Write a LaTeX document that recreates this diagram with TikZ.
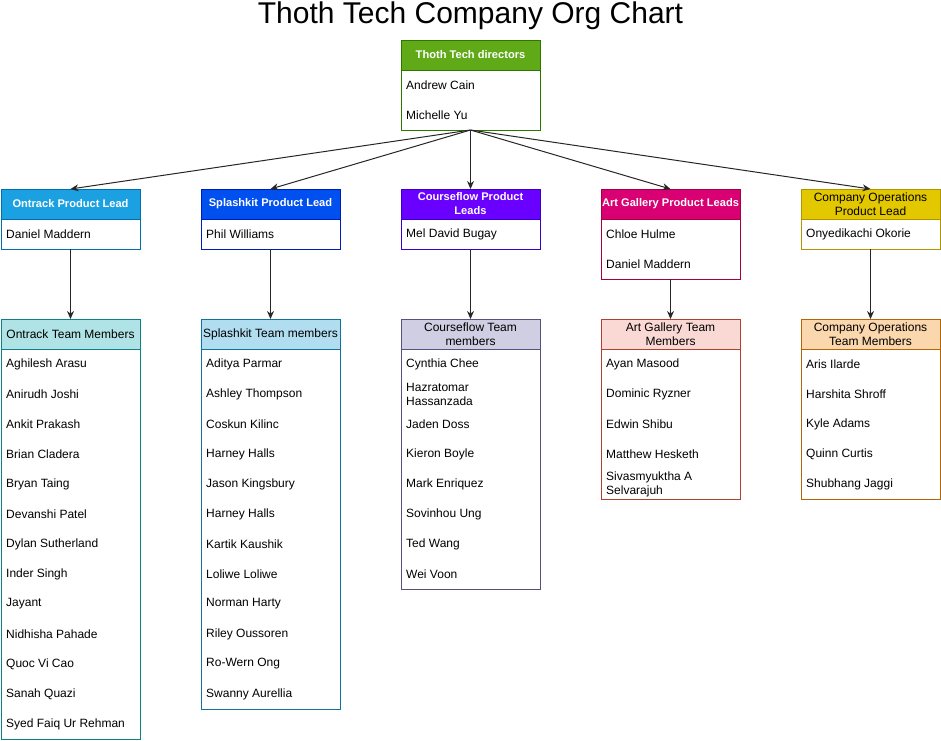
\documentclass[tikz,border=0pt]{standalone}
\usepackage{fontspec}
\setmainfont{Liberation Sans}
\usetikzlibrary{arrows.meta}
\definecolor{dirF}{HTML}{60A917}\definecolor{dirS}{HTML}{2D7600}
\definecolor{otF}{HTML}{1BA1E2}\definecolor{otS}{HTML}{006EAF}
\definecolor{skF}{HTML}{0050EF}\definecolor{skS}{HTML}{001DBC}
\definecolor{cfF}{HTML}{6A00FF}\definecolor{cfS}{HTML}{3700CC}
\definecolor{agF}{HTML}{D80073}\definecolor{agS}{HTML}{A50040}
\definecolor{coF}{HTML}{E3C800}\definecolor{coS}{HTML}{B09500}
\definecolor{otTF}{HTML}{B0E3E6}\definecolor{otTS}{HTML}{0E8088}
\definecolor{skTF}{HTML}{B1DDF0}\definecolor{skTS}{HTML}{10739E}
\definecolor{cfTF}{HTML}{D0CEE2}\definecolor{cfTS}{HTML}{56517E}
\definecolor{agTF}{HTML}{FAD9D5}\definecolor{agTS}{HTML}{AE4132}
\definecolor{coTF}{HTML}{FAD7AC}\definecolor{coTS}{HTML}{B46504}
\begin{document}
\begin{tikzpicture}[x=1pt,y=-1pt,
  box/.style={draw=#1, fill=white, minimum width=139pt, inner sep=0pt, outer sep=0pt, line width=1pt},
  hdr/.style={draw=#1, minimum width=139pt, minimum height=30pt, inner sep=0pt, outer sep=0pt, line width=1pt, align=center, font=\fontsize{12}{14}\selectfont},
  hdrw/.style={hdr=#1, text=white, font=\fontsize{11.1}{14}\selectfont\bfseries},
  row/.style={anchor=west, inner sep=0pt, align=left, font=\fontsize{12}{14}\selectfont},
  arr/.style={draw=black!85, line width=1pt, -{Stealth[length=8pt,width=7pt]}}]
\useasboundingbox (0,0) rectangle (941,740);
\node[font=\fontsize{30}{36}\selectfont, anchor=base, inner sep=0pt] (title) at (470.5,23.5) {Thoth Tech Company Org Chart};

% directors
\node[box=dirS, minimum height=90pt] (dirB) at (470.5,85) {};
\node[hdrw=dirS, fill=dirF] (dirH) at (470.5,55) {Thoth Tech directors};
\node[row] (dirR1) at (406,85) {Andrew Cain};
\node[row] (dirR2) at (406,115) {Michelle Yu};

% leads
\node[box=otS, minimum height=60pt] (otB) at (70.5,219) {};
\node[hdrw=otS, fill=otF] (otH) at (70.5,204) {Ontrack Product Lead};
\node[row] (otR1) at (6,234) {Daniel Maddern};

\node[box=skS, minimum height=60pt] (skB) at (270.5,219) {};
\node[hdrw=skS, fill=skF] (skH) at (270.5,204) {Splashkit Product Lead};
\node[row] (skR1) at (206,234) {Phil Williams};

\node[box=cfS, minimum height=60pt] (cfB) at (470.5,219) {};
\node[hdrw=cfS, fill=cfF] (cfH) at (470.5,204) {Courseflow Product\\Leads};
\node[row] (cfR1) at (406,234) {Mel David Bugay};

\node[box=agS, minimum height=90pt] (agB) at (670.5,234) {};
\node[hdrw=agS, fill=agF] (agH) at (670.5,204) {Art Gallery Product Leads};
\node[row] (agR1) at (606,234) {Chloe Hulme};
\node[row] (agR2) at (606,264) {Daniel Maddern};

\node[box=coS, minimum height=60pt] (coB) at (870.5,219) {};
\node[hdr=coS, fill=coF] (coH) at (870.5,204) {Company Operations\\Product Lead};
\node[row] (coR1) at (806,234) {Onyedikachi Okorie};

% teams
\node[box=otTS, minimum height=420pt] (otTB) at (70.5,529) {};
\node[hdr=otTS, fill=otTF] (otTH) at (70.5,334) {Ontrack Team Members};
\foreach \n [count=\i] in {Aghilesh Arasu, Anirudh Joshi, Ankit Prakash, Brian Cladera, Bryan Taing, Devanshi Patel, Dylan Sutherland, Inder Singh, Jayant, Nidhisha Pahade, Quoc Vi Cao, Sanah Quazi, Syed Faiq Ur Rehman}
  \node[row] (otT\i) at (6,{364+30*(\i-1)}) {\n};

\node[box=skTS, minimum height=390pt] (skTB) at (270.5,514) {};
\node[hdr=skTS, fill=skTF] (skTH) at (270.5,334) {Splashkit Team members};
\foreach \n [count=\i] in {Aditya Parmar, Ashley Thompson, Coskun Kilinc, Harney Halls, Jason Kingsbury, Harney Halls, Kartik Kaushik, Loliwe Loliwe, Norman Harty, Riley Oussoren, Ro-Wern Ong, Swanny Aurellia}
  \node[row] (skT\i) at (206,{364+30*(\i-1)}) {\n};

\node[box=cfTS, minimum height=270pt] (cfTB) at (470.5,454) {};
\node[hdr=cfTS, fill=cfTF] (cfTH) at (470.5,334) {Courseflow Team\\members};
\foreach \n [count=\i] in {Cynthia Chee, {Hazratomar\\Hassanzada}, Jaden Doss, Kieron Boyle, Mark Enriquez, Sovinhou Ung, Ted Wang, Wei Voon}
  \node[row] (cfT\i) at (406,{364+30*(\i-1)}) {\n};

\node[box=agTS, minimum height=180pt] (agTB) at (670.5,409) {};
\node[hdr=agTS, fill=agTF] (agTH) at (670.5,334) {Art Gallery Team\\Members};
\foreach \n [count=\i] in {Ayan Masood, Dominic Ryzner, Edwin Shibu, Matthew Hesketh, {Sivasmyuktha A\\Selvarajuh}}
  \node[row] (agT\i) at (606,{364+30*(\i-1)}) {\n};

\node[box=coTS, minimum height=180pt] (coTB) at (870.5,409) {};
\node[hdr=coTS, fill=coTF] (coTH) at (870.5,334) {Company Operations\\Team Members};
\foreach \n [count=\i] in {Aris Ilarde, Harshita Shroff, Kyle Adams, Quinn Curtis, Shubhang Jaggi}
  \node[row] (coT\i) at (806,{364+30*(\i-1)}) {\n};

% connectors
\foreach \t in {otH, skH, cfH, agH, coH}
  \draw[arr] (dirB.south) -- (\t.north);
\draw[arr] (otB.south) -- (otTH.north);
\draw[arr] (skB.south) -- (skTH.north);
\draw[arr] (cfB.south) -- (cfTH.north);
\draw[arr] (agB.south) -- (agTH.north);
\draw[arr] (coB.south) -- (coTH.north);
\end{tikzpicture}
\end{document}
